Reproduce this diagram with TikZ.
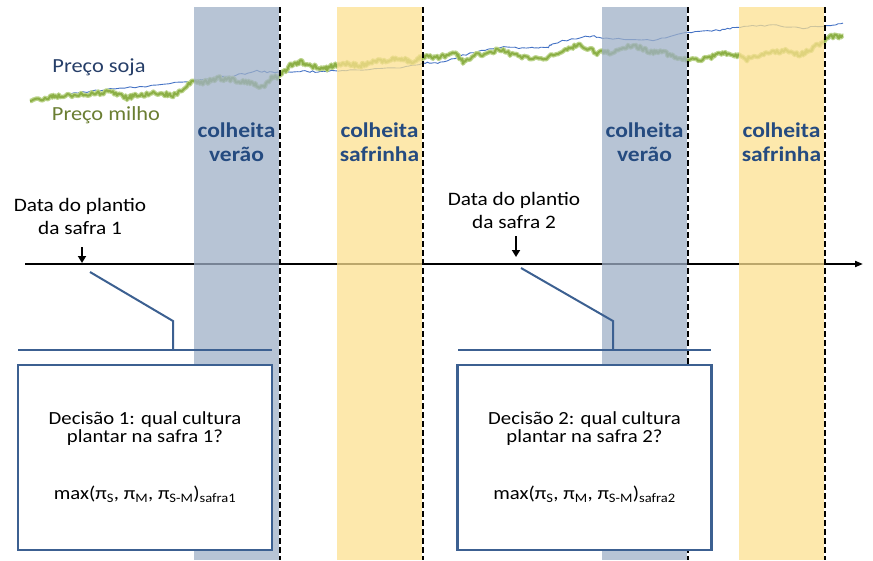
\documentclass[tikz,border=0pt]{standalone}
\usepackage{fontspec}
\setmainfont{Carlito}[FakeStretch=1.12]
\usetikzlibrary{arrows.meta}
\usetikzlibrary{positioning}

\definecolor{bandblue}{RGB}{159,176,199}
\definecolor{bandyellow}{RGB}{252,224,144}
\definecolor{harvesttext}{RGB}{37,75,128}
\definecolor{soyblue}{RGB}{68,114,196}
\definecolor{soytext}{RGB}{38,62,104}
\definecolor{corngreen}{RGB}{140,175,70}
\definecolor{cornhalo}{RGB}{188,212,140}
\definecolor{corntext}{RGB}{106,126,50}
\definecolor{calloutblue}{RGB}{60,96,145}

\begin{document}
\begin{tikzpicture}[x=1pt, y=-1pt,
    band/.style={opacity=0.75},
    harvestline/.style={draw=black, line width=1.7pt, dash pattern=on 6pt off 3pt},
    harvestlabel/.style={text=harvesttext, align=center, font=\bfseries\fontsize{21}{24}\selectfont},
    datelabel/.style={align=center, font=\fontsize{19}{23}\selectfont},
    pricelabel/.style={font=\fontsize{20}{24}\selectfont},
    decision/.style={rectangle, draw=calloutblue, line width=2.2pt, fill=white, minimum width=254pt, minimum height=185pt, align=center, font=\fontsize{18.5}{18}\selectfont},
    callout/.style={draw=calloutblue, line width=2pt},
    plantarrow/.style={line width=1.8pt, -{Triangle[length=7pt,width=8pt]}}]
    \useasboundingbox (0,0) rectangle (873,560);

    \pgfmathsetseed{5}
    \draw[soyblue, line width=0.9pt] (65,95)
        \foreach \x/\y [remember=\x as \lx (initially 65), remember=\y as \ly (initially 95)] in
        {100/90, 140/87, 187/81, 233/76, 257/71, 277/73, 300/71, 320/72, 350/70, 400/68, 423/63,
         440/63, 470/53, 500/47, 530/48, 547/48, 553/43, 590/36, 607/38, 653/40, 687/33, 720/30,
         740/27, 773/25, 803/28, 823/26, 843/24}
        {\foreach \k in {1,...,8} { -- ({\lx+(\x-\lx)*\k/8}, {\ly+(\y-\ly)*\k/8+0.9*rand}) }};

    \def\cornpath{
        \foreach \x/\y [remember=\x as \lx (initially 30), remember=\y as \ly (initially 101)] in
        {50/97, 63/96, 90/94, 110/92, 127/98, 140/95, 160/93, 173/96, 190/83, 207/82, 217/78,
         233/80, 250/83, 263/87, 272/78, 280/76, 290/66, 300/62, 313/66, 323/70, 333/66, 347/63,
         360/66, 373/62, 387/60, 400/58, 410/62, 423/57, 440/57, 455/53, 463/62, 477/55, 500/50,
         520/57, 543/60, 563/50, 580/45, 597/53, 613/52, 633/45, 650/52, 663/52, 677/58, 700/60,
         717/55, 730/53, 747/59, 767/53, 787/50, 800/55, 813/48, 833/36, 843/37}
        {\foreach \k in {1,...,12} { -- ({\lx+(\x-\lx)*\k/12}, {\ly+(\y-\ly)*\k/12+2.2*rand}) }}}
    \pgfmathsetseed{11}
    \draw[cornhalo, line width=4.5pt, line join=round] (30,101) \cornpath;
    \pgfmathsetseed{11}
    \draw[corngreen, line width=2pt, line join=round] (30,101) \cornpath;

    \coordinate (t0) at (25,264);
    \coordinate (t1) at (863,264);
    \draw[line width=1.8pt, -{Triangle[length=8pt,width=6pt]}] (t0) -- (t1);

    \foreach \xl/\xr/\c [count=\i from 1] in {194/279/bandblue, 337/422/bandyellow, 602/687/bandblue, 739/824/bandyellow}
    {
        \fill[\c, band] (\xl,7) rectangle (\xr,560);
        \draw[harvestline] (\xr+1,7) -- (\xr+1,560);
    }

    \node[harvestlabel] (verao1) at (236.5,142) {colheita\\verão};
    \node[harvestlabel] (safrinha1) at (379.5,142) {colheita\\safrinha};
    \node[harvestlabel] (verao2) at (644.5,142) {colheita\\verão};
    \node[harvestlabel] (safrinha2) at (781.5,142) {colheita\\safrinha};

    \node[pricelabel, text=soytext] (soja) at (99,67) {Preço soja};
    \node[pricelabel, text=corntext] (milho) at (106,115) {Preço milho};

    \node[datelabel] (plantio1) at (80,216) {Data do plantio\\da safra 1};
    \node[datelabel] (plantio2) at (514,210) {Data do plantio\\da safra 2};
    \coordinate (p1top) at (82,247);
    \coordinate (p1) at (82,263);
    \coordinate (p2top) at (516,236);
    \coordinate (p2) at (516,257);
    \draw[plantarrow] (p1top) -- (p1);
    \draw[plantarrow] (p2top) -- (p2);

    \coordinate (c1a) at (90,272);
    \coordinate (c1b) at (173,321);
    \coordinate (c1c) at (173,350);
    \coordinate (bar1w) at (18,350);
    \coordinate (bar1e) at (272,350);
    \draw[callout, line join=miter] (c1a) -- (c1b) -- (c1c);
    \draw[callout] (bar1w) -- (bar1e);

    \coordinate (c2a) at (521,268);
    \coordinate (c2b) at (613,321);
    \coordinate (c2c) at (613,350);
    \coordinate (bar2w) at (458,350);
    \coordinate (bar2e) at (711,350);
    \draw[callout, line join=miter] (c2a) -- (c2b) -- (c2c);
    \draw[callout] (bar2w) -- (bar2e);

    \node[decision] (dec1) at (145,457.5) {Decisão 1: qual cultura\\plantar na safra 1?\\[39pt]max(π\textsubscript{S}, π\textsubscript{M}, π\textsubscript{S-M})\textsubscript{safra1}};
    \node[decision] (dec2) at (584.5,457.5) {Decisão 2: qual cultura\\plantar na safra 2?\\[39pt]max(π\textsubscript{S}, π\textsubscript{M}, π\textsubscript{S-M})\textsubscript{safra2}};
\end{tikzpicture}
\end{document}
